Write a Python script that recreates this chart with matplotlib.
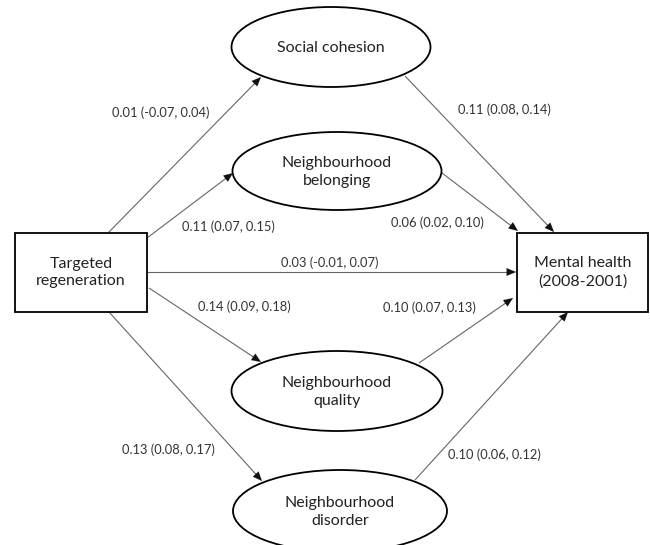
import matplotlib
matplotlib.use("Agg")
import matplotlib.pyplot as plt
import numpy as np
from matplotlib.patches import Ellipse, Rectangle

plt.rcParams['font.family'] = ['Lato', 'DejaVu Sans']

# path coefficients (estimate, lower, upper)
mediators = ["Social cohesion", "Neighbourhood\nbelonging",
             "Neighbourhood\nquality", "Neighbourhood\ndisorder"]
a_est = [0.01, 0.11, 0.14, 0.13]   # targeted regeneration -> mediator
a_lo = [-0.07, 0.07, 0.09, 0.08]
a_hi = [0.04, 0.15, 0.18, 0.17]
b_est = [0.11, 0.06, 0.10, 0.10]   # mediator -> mental health
b_lo = [0.08, 0.02, 0.07, 0.06]
b_hi = [0.14, 0.10, 0.13, 0.12]
direct = [0.03, -0.01, 0.07]
exposure = "Targeted\nregeneration"
outcome = "Mental health\n(2008-2001)"

# layout in pixel units (x right, y down)
ell_xy = [(331, 47), (337, 171), (337, 391), (340, 511)]
ell_wh = [(199, 80), (209, 78), (211, 80), (214, 82)]
box_exp = (15, 233, 132, 79)
box_out = (517, 233, 131, 79)
a_from = [(108, 233), (147, 238), (149, 288), (109, 312)]
a_to = [(261, 77), (233, 173), (261, 362), (262, 481)]
b_from = [(405, 76), (442, 173), (419, 363), (415, 480)]
b_to = [(554, 232), (518, 231), (513, 298), (568, 312)]
a_lab = [(161, 113), (228, 227), (244, 307), (168, 450)]
b_lab = [(504, 110), (437, 223), (429, 308), (494, 455)]

fig = plt.figure(figsize=(6.5, 5.45), dpi=100)
ax = fig.add_axes([0, 0, 1, 1])
ax.set_xlim(0, 650)
ax.set_ylim(545, 0)
ax.axis('off')

def fmt(e, lo, hi):
    return f"{e:.2f} ({lo:.2f}, {hi:.2f})"

def arrow(p0, p1):
    # grey shaft, black head
    p0 = np.array(p0, float)
    p1 = np.array(p1, float)
    d = (p1 - p0) / np.hypot(*(p1 - p0))
    ax.plot([p0[0], p1[0] - 4 * d[0]], [p0[1], p1[1] - 4 * d[1]],
            color="#666666", lw=0.8, solid_capstyle="butt")
    ax.annotate("", xy=p1, xytext=p1 - 10 * d,
                arrowprops=dict(arrowstyle="-|>,head_length=0.6,head_width=0.25",
                                color="#111111", lw=0.1, shrinkA=0, shrinkB=0,
                                mutation_scale=11))

for name, (cx, cy), (w, h) in zip(mediators, ell_xy, ell_wh):
    ax.add_patch(Ellipse((cx, cy), w, h, fc="white", ec="black", lw=1.3, zorder=3))
    ax.text(cx, cy + 1, name, ha="center", va="center", fontsize=11.5,
            color="#222222", linespacing=1.35, zorder=4)

for (x, y, w, h), name in [(box_exp, exposure), (box_out, outcome)]:
    ax.add_patch(Rectangle((x, y), w, h, fc="white", ec="black", lw=1.3, zorder=3))
    ax.text(x + w / 2, y + h / 2, name, ha="center", va="center", fontsize=11.5,
            color="#222222", linespacing=1.35, zorder=4)

for i in range(4):
    arrow(a_from[i], a_to[i])
    arrow(b_from[i], b_to[i])
    ax.text(*a_lab[i], fmt(a_est[i], a_lo[i], a_hi[i]), ha="center", va="center",
            fontsize=9.3, color="#333333")
    ax.text(*b_lab[i], fmt(b_est[i], b_lo[i], b_hi[i]), ha="center", va="center",
            fontsize=9.3, color="#333333")

arrow((147, 272), (516, 272))
ax.text(330, 263, fmt(*direct), ha="center", va="center", fontsize=9.3, color="#333333")

fig.savefig("out.png", dpi=100)
